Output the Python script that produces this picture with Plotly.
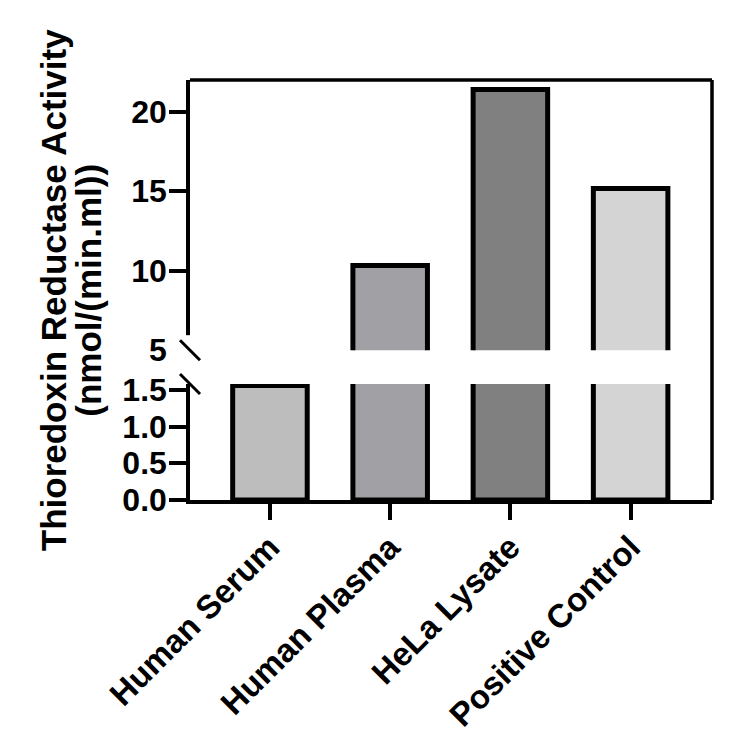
import plotly.graph_objects as go

categories = ["Human Serum", "Human Plasma", "HeLa Lysate", "Positive Control"]
activity = [1.56, 10.33, 21.4, 15.18]
bar_colors = ["#bdbdbd", "#a1a1a5", "#808080", "#d4d4d4"]

lower_ticks = [0.0, 0.5, 1.0, 1.5]
lower_ticktext = ["0.0", "0.5", "1.0", "1.5"]
upper_ticks = [5, 10, 15, 20]
upper_ticktext = ["5", "10", "15", "20"]

FONT = "Liberation Sans, Arial, sans-serif"
LW = 3.5
upper_bottom = 0.3567
lower_top = 0.2762

fig = go.Figure()
common = dict(
    x=categories,
    y=activity,
    width=0.62,
    marker=dict(color=bar_colors, line=dict(color="black", width=5)),
    showlegend=False,
    hoverinfo="x+y",
)
fig.add_trace(go.Bar(xaxis="x", yaxis="y", **common))
fig.add_trace(go.Bar(xaxis="x2", yaxis="y2", **common))

tickfont = dict(family=FONT, size=32, color="black", weight="bold")

fig.update_layout(
    width=750,
    height=746,
    margin=dict(l=182, r=46, t=72, b=254),
    paper_bgcolor="white",
    plot_bgcolor="white",
    font=dict(family=FONT, color="black"),
    xaxis=dict(
        domain=[0, 1], anchor="y", range=[-0.665, 3.677],
        showline=True, linecolor="black", linewidth=LW,
        ticks="outside", ticklen=16, tickwidth=LW, tickcolor="black",
        ticklabelstandoff=-5,
        tickangle=-45, tickfont=dict(family=FONT, size=33, color="black", weight="bold"),
        showgrid=False, zeroline=False, fixedrange=True,
    ),
    xaxis2=dict(
        domain=[0, 1], anchor="y2", matches="x", range=[-0.665, 3.677],
        showticklabels=False, showline=False, ticks="", showgrid=False, zeroline=False,
    ),
    yaxis=dict(
        domain=[0, lower_top], anchor="x", range=[0, 1.58],
        tickvals=lower_ticks, ticktext=lower_ticktext,
        showline=True, linecolor="black", linewidth=LW,
        ticks="outside", ticklen=17, tickwidth=LW, tickcolor="black",
        ticklabelstandoff=-4,
        tickfont=tickfont, showgrid=False, zeroline=False,
    ),
    yaxis2=dict(
        domain=[upper_bottom, 1], anchor="x2", range=[5, 22.0],
        tickvals=upper_ticks, ticktext=upper_ticktext,
        showline=True, linecolor="black", linewidth=LW,
        ticks="outside", ticklen=17, tickwidth=LW, tickcolor="black",
        ticklabelstandoff=-4,
        tickfont=tickfont, showgrid=False, zeroline=False,
    ),
    bargap=0.38,
)

shapes = [
    # top and right frame
    dict(type="line", xref="paper", yref="paper", x0=0, x1=1, y0=1, y1=1,
         line=dict(color="black", width=LW), layer="above"),
    dict(type="line", xref="paper", yref="paper", x0=1, x1=1, y0=0, y1=1,
         line=dict(color="black", width=LW), layer="above"),
    # hide the axis end near the break
    dict(type="rect", xref="paper", yref="paper", xsizemode="pixel", ysizemode="pixel",
         xanchor=0, x0=-24, x1=4, yanchor=upper_bottom, y0=-2, y1=15,
         fillcolor="white", line=dict(width=0), layer="above"),
    # break marks
    dict(type="line", xref="paper", yref="paper", xsizemode="pixel", ysizemode="pixel",
         xanchor=0, x0=-10, x1=10, yanchor=upper_bottom, y0=10, y1=-10,
         line=dict(color="black", width=3), layer="above"),
    dict(type="line", xref="paper", yref="paper", xsizemode="pixel", ysizemode="pixel",
         xanchor=0, x0=-10, x1=10, yanchor=lower_top, y0=10, y1=-10,
         line=dict(color="black", width=3), layer="above"),
]
fig.update_layout(shapes=shapes)

title_font = dict(family=FONT, size=35, color="black", weight="bold")
fig.add_annotation(text="Thioredoxin Reductase Activity", xref="paper", yref="paper",
                   x=-0.262, y=0.5, textangle=-90, showarrow=False,
                   xanchor="center", yanchor="middle", font=title_font)
fig.add_annotation(text="(nmol/(min.ml))", xref="paper", yref="paper",
                   x=-0.196, y=0.5, textangle=-90, showarrow=False,
                   xanchor="center", yanchor="middle", font=title_font)

fig.write_html("out.html")
